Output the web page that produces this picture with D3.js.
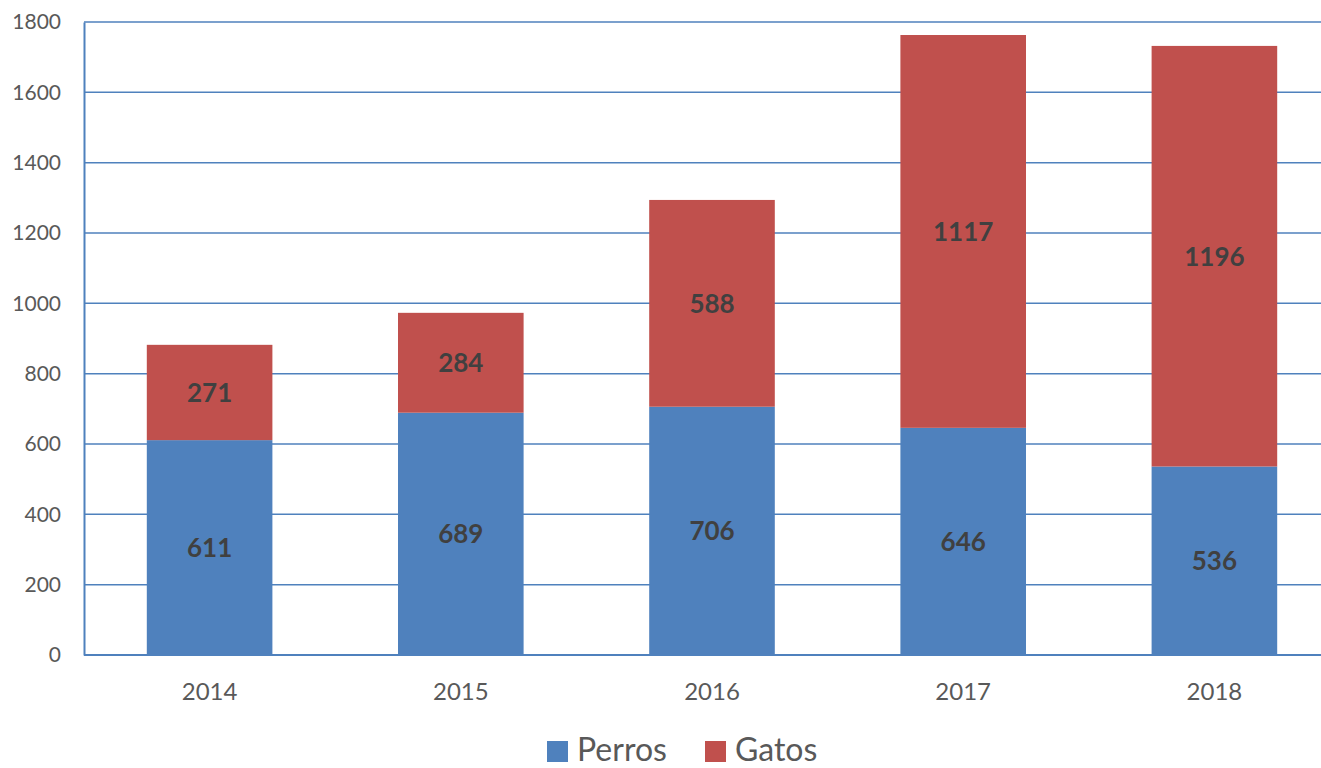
<!DOCTYPE html>
<html>
<head>
<meta charset="utf-8">
<script src="https://cdn.jsdelivr.net/npm/d3@7"></script>
<style>
  body { margin: 0; background: #fff; }
  text { font-family: Lato, "Open Sans", sans-serif; }
</style>
</head>
<body>
<div id="chart"></div>
<script>
const years = ['2014', '2015', '2016', '2017', '2018'];
const perros = [611, 689, 706, 646, 536];
const gatos = [271, 284, 588, 1117, 1196];
const yTicks = [0, 200, 400, 600, 800, 1000, 1200, 1400, 1600, 1800];
const series = [
	{ name: 'Perros', values: perros, color: '#4F81BD' },
	{ name: 'Gatos', values: gatos, color: '#C0504D' },
];

const width = 1321, height = 768;
const plot = { left: 84, right: 1340, top: 22, bottom: 655 };

const svg = d3.select('#chart').append('svg')
	.attr('width', width).attr('height', height);

const scale = {
	x: d3.scaleBand().domain(years)
		.range([plot.left, plot.right]).paddingInner(0.5).paddingOuter(0.25),
	y: d3.scaleLinear().domain([0, 1800]).range([plot.bottom, plot.top]),
};

// gridlines
svg.append('g').selectAll('line').data(yTicks).join('line')
	.attr('x1', plot.left).attr('x2', width)
	.attr('y1', (d) => scale.y(d)).attr('y2', (d) => scale.y(d))
	.attr('stroke', '#4F81BD').attr('stroke-width', 1.5);

// stacked bars
const stack = d3.stack().keys([0, 1]).value((d, k) => d[k]);
const rows = years.map((y, i) => [perros[i], gatos[i]]);
const layers = stack(rows);

layers.forEach((layer, k) => {
	const g = svg.append('g');
	g.selectAll('rect').data(layer).join('rect')
		.attr('x', (d, i) => scale.x(years[i]))
		.attr('width', scale.x.bandwidth())
		.attr('y', (d) => scale.y(d[1]))
		.attr('height', (d) => scale.y(d[0]) - scale.y(d[1]))
		.attr('fill', series[k].color);
	g.selectAll('text').data(layer).join('text')
		.attr('x', (d, i) => scale.x(years[i]) + scale.x.bandwidth() / 2)
		.attr('y', (d) => (scale.y(d[0]) + scale.y(d[1])) / 2)
		.attr('dy', '0.36em')
		.attr('text-anchor', 'middle')
		.attr('font-size', 26).attr('font-weight', 'bold')
		.attr('fill', '#404040')
		.text((d, i) => series[k].values[i]);
});

// axes
const axisY = svg.append('g').attr('transform', `translate(${plot.left},0)`)
	.call(d3.axisLeft(scale.y).tickValues(yTicks).tickFormat(d3.format('d'))
		.tickSize(0).tickPadding(23));
axisY.select('.domain').attr('stroke', '#4F81BD').attr('stroke-width', 2);
axisY.selectAll('text').attr('font-size', 21).attr('fill', '#595959');

const axisX = svg.append('g').attr('transform', `translate(0,${plot.bottom})`)
	.call(d3.axisBottom(scale.x).tickSize(0));
axisX.select('.domain').attr('stroke', '#4F81BD').attr('stroke-width', 2)
	.attr('d', `M${plot.left},0H${width}`);
axisX.selectAll('text').attr('font-size', 24).attr('fill', '#595959')
	.attr('y', 45).attr('dy', 0);

// legend
const legend = svg.append('g');
const lx = [547, 705];
series.forEach((s, i) => {
	legend.append('rect').attr('x', lx[i]).attr('y', 741)
		.attr('width', 21).attr('height', 21).attr('fill', s.color);
	legend.append('text').attr('x', lx[i] + 30).attr('y', 761)
		.attr('font-size', 32).attr('fill', '#595959').text(s.name);
});
</script>
</body>
</html>
